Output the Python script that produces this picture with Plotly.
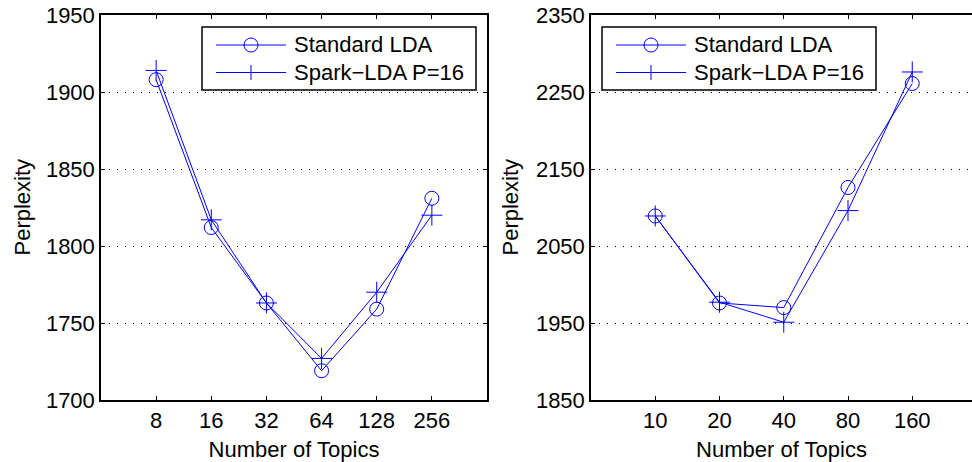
import plotly.graph_objects as go

# ---- data ----
topics_left = ["8", "16", "32", "64", "128", "256"]
std_left = [1908, 1812, 1763, 1719, 1759, 1831]
spark_left = [1914, 1817, 1763, 1727, 1770, 1820]

topics_right = ["10", "20", "40", "80", "160"]
std_right = [2089, 1976, 1970, 2126, 2261]
spark_right = [2089, 1977, 1951, 2096, 2276]

name_std = "Standard LDA"
name_spark = "Spark\u2212LDA P=16"
x_title = "Number of Topics"
y_title = "Perplexity"

yticks_left = [1700, 1750, 1800, 1850, 1900, 1950]
yticks_right = [1850, 1950, 2050, 2150, 2250, 2350]

# ---- style ----
BLUE = "rgb(0,0,255)"
FONT = "Liberation Sans, Arial, Helvetica, sans-serif"
FS = 22
W, H = 972, 462

fig = go.Figure()

xl = list(range(1, len(topics_left) + 1))
xr = list(range(1, len(topics_right) + 1))

def add_pair(xs, ys_std, ys_spark, xa, ya):
    fig.add_trace(go.Scatter(
        x=xs, y=ys_std, name=name_std, mode="lines+markers",
        line=dict(color=BLUE, width=1),
        marker=dict(symbol="circle-open", size=14, color=BLUE, line=dict(width=1, color=BLUE)),
        xaxis=xa, yaxis=ya, showlegend=False))
    fig.add_trace(go.Scatter(
        x=xs, y=ys_spark, name=name_spark, mode="lines+markers",
        line=dict(color=BLUE, width=1),
        marker=dict(symbol="cross-thin-open", size=15, color=BLUE, line=dict(width=1, color=BLUE)),
        xaxis=xa, yaxis=ya, showlegend=False))

add_pair(xl, std_left, spark_left, "x", "y")
add_pair(xr, std_right, spark_right, "x2", "y2")

ydom = [1 - 400 / H, 1 - 15 / H]

axis_common = dict(
    showline=True, linecolor="black", linewidth=1.5,
    ticks="inside", ticklen=4, tickwidth=1, tickcolor="black",
    tickfont=dict(family=FONT, size=FS, color="black"),
    zeroline=False, automargin=False,
)

# ---- legend boxes (drawn as shapes/annotations, pixel -> paper) ----
def px(x):
    return x / W

def py(y):
    return 1 - y / H

shapes = []
annotations = []

def draw_legend(left):
    shapes.append(dict(type="rect", xref="paper", yref="paper",
                       x0=px(left), x1=px(left + 274), y0=py(90), y1=py(27),
                       line=dict(color="black", width=1.5), fillcolor="white",
                       layer="above"))
    rows = [(45, name_std, "circle"), (72.5, name_spark, "plus")]
    for yc, label, kind in rows:
        shapes.append(dict(type="line", xref="paper", yref="paper",
                           x0=px(left + 14), x1=px(left + 84), y0=py(yc), y1=py(yc),
                           line=dict(color=BLUE, width=1), layer="above"))
        cx = left + 49
        if kind == "circle":
            shapes.append(dict(type="circle", xref="paper", yref="paper",
                               x0=px(cx - 7), x1=px(cx + 7), y0=py(yc + 7), y1=py(yc - 7),
                               line=dict(color=BLUE, width=1), fillcolor="rgba(0,0,0,0)",
                               layer="above"))
        else:
            shapes.append(dict(type="line", xref="paper", yref="paper",
                               x0=px(cx), x1=px(cx), y0=py(yc + 7.5), y1=py(yc - 7.5),
                               line=dict(color=BLUE, width=1), layer="above"))
        annotations.append(dict(xref="paper", yref="paper", x=px(left + 90), y=py(yc),
                                xanchor="left", yanchor="middle", showarrow=False,
                                text=label, font=dict(family=FONT, size=FS, color="black")))

draw_legend(202)
draw_legend(602)

# y-axis titles as rotated annotations
for xc in (22, 510):
    annotations.append(dict(xref="paper", yref="paper", x=px(xc), y=py(207.5),
                            xanchor="center", yanchor="middle", showarrow=False,
                            textangle=-90, text=y_title,
                            font=dict(family=FONT, size=FS, color="black")))

fig.update_layout(
    width=W, height=H,
    margin=dict(l=0, r=0, t=0, b=0, autoexpand=False),
    paper_bgcolor="white", plot_bgcolor="white",
    font=dict(family=FONT, size=FS, color="black"),
    showlegend=False,
    shapes=shapes, annotations=annotations,
    xaxis=dict(domain=[101 / W, 487 / W], range=[0, len(topics_left) + 1],
               tickvals=xl, ticktext=topics_left, mirror="ticks", showgrid=False,
               title=dict(text=x_title, font=dict(family=FONT, size=FS)),
               anchor="y", **axis_common),
    yaxis=dict(domain=ydom, range=[yticks_left[0], yticks_left[-1]],
               tickvals=yticks_left, mirror="ticks",
               showgrid=True, gridcolor="black", gridwidth=1, griddash="1px,7px",
               anchor="x", **axis_common),
    xaxis2=dict(domain=[591 / W, 1.0], range=[0, 381 / 64.25],
                tickvals=xr, ticktext=topics_right, mirror="ticks", showgrid=False,
                title=dict(text=x_title, font=dict(family=FONT, size=FS)),
                anchor="y2", **axis_common),
    yaxis2=dict(domain=ydom, range=[yticks_right[0], yticks_right[-1]],
                tickvals=yticks_right, mirror=False,
                showgrid=True, gridcolor="black", gridwidth=1, griddash="1px,7px",
                anchor="x2", **axis_common),
)

fig.write_html("out.html")
